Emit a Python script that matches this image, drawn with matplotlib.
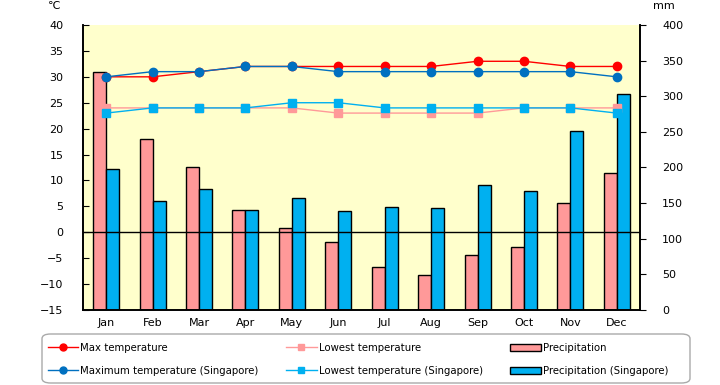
import matplotlib
matplotlib.use("Agg")
import matplotlib.pyplot as plt
import numpy as np
from matplotlib.lines import Line2D
from matplotlib.patches import Patch, FancyBboxPatch

plt.rcParams['font.family'] = ['DejaVu Sans']

months = ["Jan", "Feb", "Mar", "Apr", "May", "Jun", "Jul", "Aug", "Sep", "Oct", "Nov", "Dec"]
max_temp = [30, 30, 31, 32, 32, 32, 32, 32, 33, 33, 32, 32]
low_temp = [24, 24, 24, 24, 24, 23, 23, 23, 23, 24, 24, 24]
max_temp_sg = [30, 31, 31, 32, 32, 31, 31, 31, 31, 31, 31, 30]
low_temp_sg = [23, 24, 24, 24, 25, 25, 24, 24, 24, 24, 24, 23]
precip = [334, 240, 200, 140, 115, 96, 60, 49, 77, 89, 150, 192]
precip_sg = [198, 153, 170, 140, 157, 139, 144, 143, 176, 167, 251, 303]

fig = plt.figure(figsize=(7.2, 3.85), dpi=100)
ax2 = fig.add_axes([0.1153, 0.195, 0.7736, 0.740])
ax = ax2.twinx()
ax.yaxis.tick_left()
ax.yaxis.set_label_position("left")
ax2.yaxis.tick_right()
ax2.yaxis.set_label_position("right")
ax.set_zorder(ax2.get_zorder() + 1)
ax.patch.set_visible(False)
ax2.set_facecolor("#FFFFCC")

x = np.arange(len(months))
w = 0.28
ax2.bar(x - w / 2, precip, width=w, color="#FF9999", edgecolor="black", linewidth=1.0)
ax2.bar(x + w / 2, precip_sg, width=w, color="#00B0F0", edgecolor="black", linewidth=1.0)
ax2.set_ylim(0, 400)
ax2.set_yticks(range(0, 401, 50))
ax2.set_xlim(-0.5, 11.5)

ax.axhline(0, color="black", linewidth=1.0)
ax.plot(x, max_temp, color="#FF0000", marker="o", markersize=6, linewidth=1.0)
ax.plot(x, low_temp, color="#FF9999", marker="s", markersize=6, linewidth=1.0)
ax.plot(x, max_temp_sg, color="#0070C0", marker="o", markersize=6, linewidth=1.0)
ax.plot(x, low_temp_sg, color="#00B0F0", marker="s", markersize=6, linewidth=1.0)
ax.set_ylim(-15, 40)
ax.set_yticks(range(-15, 41, 5))
ax.set_xlim(-0.5, 11.5)
ax.set_xticks(x)
ax2.set_xticks(x)
ax2.set_xticklabels(months, fontsize=8)
ax.tick_params(axis="x", length=0)
ax2.tick_params(axis="x", length=0, pad=6)
ax.tick_params(axis="y", direction="in", length=4, labelsize=8, pad=14)
ax2.tick_params(axis="y", direction="out", length=4, labelsize=8, pad=12)

for a in (ax, ax2):
    a.spines["top"].set_visible(False)
    for s in ("left", "right", "bottom"):
        a.spines[s].set_linewidth(1.2)
        a.spines[s].set_color("black")

fig.text(0.075, 0.985, "℃", fontsize=8, ha="center", va="center")
fig.text(0.922, 0.985, "mm", fontsize=8, ha="center", va="center")

# legend frame
box = FancyBboxPatch((42 / 720, 2 / 385), 648 / 720, 49 / 385,
                     boxstyle="round,pad=0,rounding_size=0.012",
                     transform=fig.transFigure, facecolor="white",
                     edgecolor="#AAAAAA", linewidth=1.0)
fig.patches.append(box)

handles = [
    Line2D([], [], color="#FF0000", marker="o", markersize=5, linewidth=1.0),
    Line2D([], [], color="#0070C0", marker="o", markersize=5, linewidth=1.0),
    Line2D([], [], color="#FF9999", marker="s", markersize=5, linewidth=1.0),
    Line2D([], [], color="#00B0F0", marker="s", markersize=5, linewidth=1.0),
    Patch(facecolor="#FF9999", edgecolor="black"),
    Patch(facecolor="#00B0F0", edgecolor="black"),
]
labels = ["Max temperature", "Maximum temperature (Singapore)",
          "Lowest temperature", "Lowest temperature (Singapore)",
          "Precipitation", "Precipitation (Singapore)"]
leg = fig.legend(handles, labels, ncol=3, loc="upper left",
                 bbox_to_anchor=(48 / 720, 1 - 343 / 385),
                 fontsize=7.3, frameon=False,
                 handlelength=3.0, handletextpad=0.2, borderaxespad=0,
                 labelspacing=1.25, borderpad=0, columnspacing=2.7)

fig.savefig("out.png", dpi=100)
